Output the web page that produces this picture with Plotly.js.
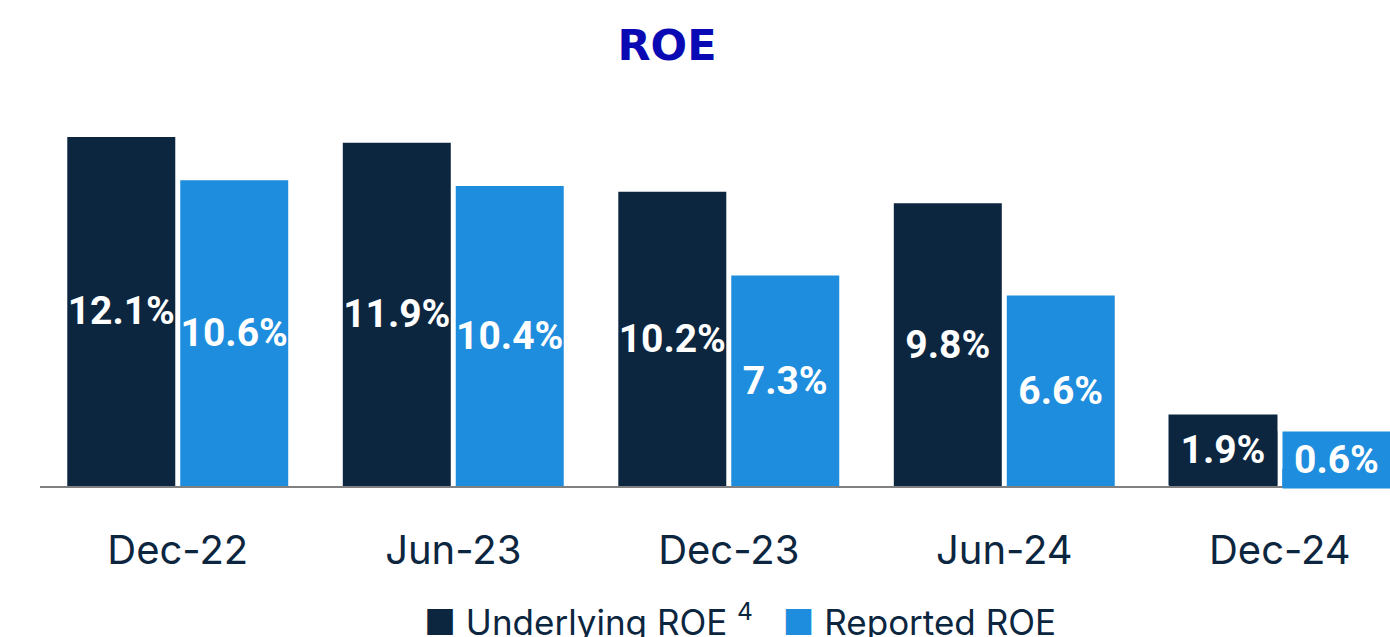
<!DOCTYPE html>
<html>
<head>
<meta charset="utf-8">
<script src="https://cdn.plot.ly/plotly-3.0.1.min.js"></script>
<style>html,body{margin:0;padding:0;background:#fff;}#chart{width:1390px;height:637px;}</style>
</head>
<body>
<div id="chart"></div>
<script>
const categories = ['Dec-22', 'Jun-23', 'Dec-23', 'Jun-24', 'Dec-24'];
const underlyingROE = [12.1, 11.9, 10.2, 9.8, 1.9];
const reportedROE = [10.6, 10.4, 7.3, 6.6, 0.6];
const seriesNames = ['Underlying ROE', 'Reported ROE'];

const NAVY = '#0c2640';
const BLUE = '#1f8ddd';
const fmt = v => v.toFixed(1) + '%';
const lastIdx = categories.length - 1;
const labelText = arr => arr.map((v, i) => i === lastIdx ? '' : fmt(v));

const labelFont = {family: 'Roboto, sans-serif', size: 39, color: '#ffffff', weight: 700};

const traces = [
  {type: 'bar', name: seriesNames[0], x: categories, y: underlyingROE,
   marker: {color: NAVY}, text: labelText(underlyingROE), textposition: 'inside',
   insidetextanchor: 'middle', textangle: 0, constraintext: 'none',
   insidetextfont: labelFont, hoverinfo: 'skip', showlegend: false},
  {type: 'bar', name: seriesNames[1], x: categories, y: reportedROE,
   marker: {color: BLUE}, text: labelText(reportedROE), textposition: 'inside',
   insidetextanchor: 'middle', textangle: 0, constraintext: 'none',
   insidetextfont: labelFont, hoverinfo: 'skip', showlegend: false}
];

const annotations = [
  {x: categories[lastIdx], y: 0, xref: 'x', yref: 'y', xshift: -56.5, yshift: 0,
   yanchor: 'bottom', xanchor: 'center', text: fmt(underlyingROE[lastIdx]), showarrow: false,
   bgcolor: NAVY, width: 108, height: 70, borderpad: 0, font: labelFont},
  {x: categories[lastIdx], y: 0, xref: 'x', yref: 'y', xshift: 56.5, yshift: -3,
   yanchor: 'bottom', xanchor: 'center', text: fmt(reportedROE[lastIdx]), showarrow: false,
   bgcolor: BLUE, width: 107, height: 56, borderpad: 0, font: labelFont},
  {x: 0.5185, y: -0.345, xref: 'paper', yref: 'paper', xanchor: 'center', yanchor: 'middle',
   showarrow: false,
   text: '<span style="color:' + NAVY + '">■</span> ' + seriesNames[0] + ' <sup>4</sup>   ' +
         '<span style="color:' + BLUE + '">■</span> ' + seriesNames[1],
   font: {family: 'Inter, sans-serif', size: 35, color: NAVY}}
];

const layout = {
  width: 1390, height: 637,
  margin: {l: 40, r: 0, t: 100, b: 151},
  paper_bgcolor: '#ffffff', plot_bgcolor: '#ffffff',
  title: {text: '<b>ROE</b>', x: 667/1390, xref: 'container', xanchor: 'center',
          y: 1 - 45/637, yref: 'container', yanchor: 'middle',
          font: {family: 'DejaVu Sans, sans-serif', size: 43, color: '#0a0ab4'}},
  barmode: 'group', bargap: 0.18, bargroupgap: 0.044,
  showlegend: false,
  xaxis: {type: 'category', range: [-0.5, 4.4], showline: true, linecolor: '#808080', linewidth: 2,
          ticks: '', showgrid: false, zeroline: false, ticklabelstandoff: 28,
          tickfont: {family: 'Inter, sans-serif', size: 40, color: NAVY}},
  yaxis: {range: [0, 13.38], visible: false, showgrid: false, zeroline: false},
  annotations: annotations
};

Plotly.newPlot('chart', traces, layout, {displayModeBar: false, staticPlot: true});
</script>
</body>
</html>
